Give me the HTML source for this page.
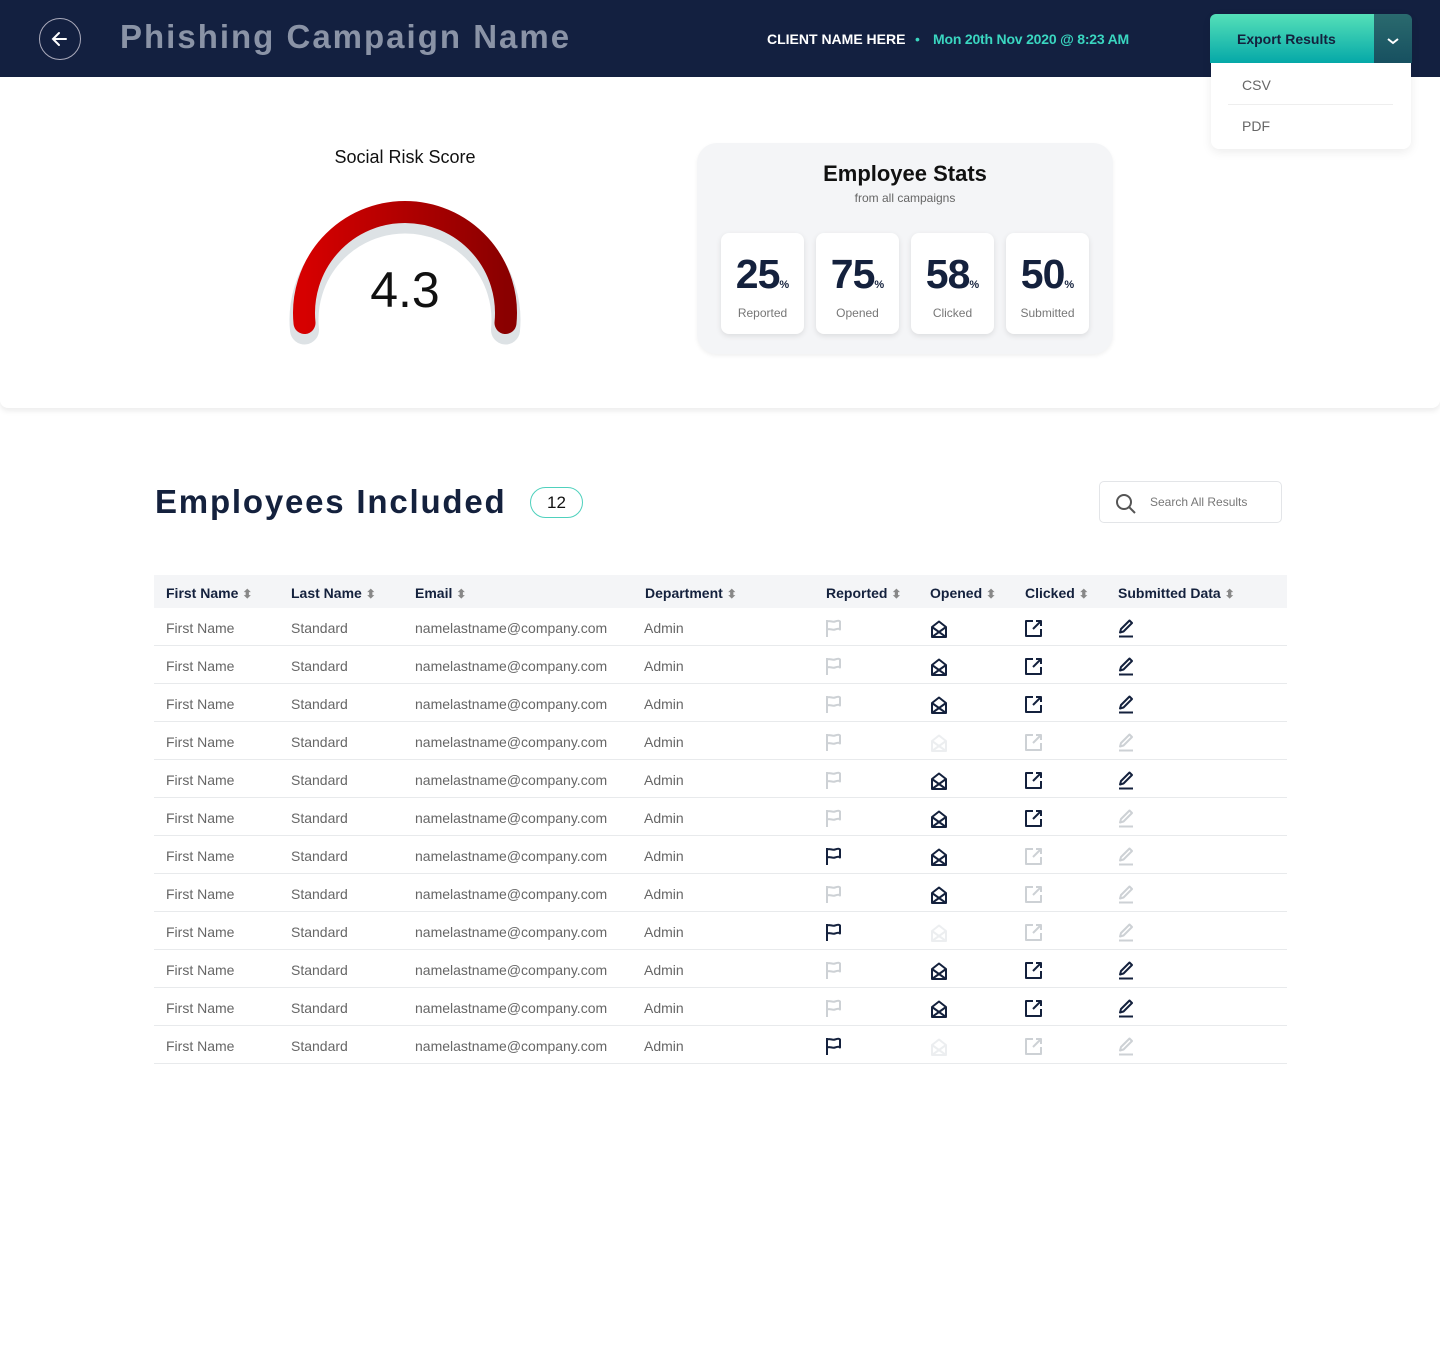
<!DOCTYPE html>
<html><head><meta charset="utf-8">
<style>
*{box-sizing:border-box;margin:0;padding:0}
body{width:1440px;height:1351px;background:#fff;font-family:"Liberation Sans",sans-serif;position:relative;overflow:hidden;color:#14213d}
.abs{position:absolute}
#header{left:0;top:0;width:1440px;height:77px;background:#132040}
#top{left:0;top:77px;width:1440px;height:331px;background:#fff;box-shadow:0 3px 6px rgba(0,0,0,0.08);border-radius:0 0 8px 8px}
.card{background:#fff;border-radius:8px;box-shadow:0 2px 6px rgba(0,0,0,0.10);text-align:center;width:83px;height:101px;top:233px}
.num{font-size:41px;font-weight:bold;color:#14213d;margin-top:18px;letter-spacing:-1px}
.num span{font-size:11px;letter-spacing:0}
.lbl{font-size:12px;color:#777;margin-top:8px}
.hcell{font-size:14px;font-weight:bold;color:#14213d;top:585px}
.sort{color:#888;font-size:12px}
.cell{font-size:14px;color:#666}
.sep{left:154px;width:1133px;height:1px;background:#e8eaec}
</style></head><body>
<div class="abs" id="header">
  <div class="abs" style="left:39px;top:18px;width:42px;height:42px;border:1px solid #aab;border-radius:50%">
    <svg width="40" height="40" style="position:absolute;left:0;top:0"><path d="M13 20h13M19 14l-6 6 6 6" stroke="#fff" stroke-width="2" fill="none" stroke-linecap="round"/></svg>
  </div>
  <div class="abs" style="left:120px;top:18px;font-size:33px;font-weight:bold;color:#8a93a6;letter-spacing:2px">Phishing Campaign Name</div>
  <div class="abs" style="left:767px;top:31px;font-size:14px;font-weight:bold;color:#fff">CLIENT NAME HERE</div>
  <div class="abs" style="left:915px;top:31px;font-size:14px;color:#3ad6c0">•</div>
  <div class="abs" style="left:933px;top:31px;font-size:14px;font-weight:bold;color:#3ad6c0;letter-spacing:-0.2px">Mon 20th Nov 2020 @ 8:23 AM</div>
</div>
<div class="abs" id="top"></div>

<div class="abs" style="left:1211px;top:14px;width:200px;height:135px;background:#fff;border-radius:8px;box-shadow:0 3px 10px rgba(0,0,0,0.08)">
  <div class="abs" style="left:31px;top:63px;font-size:14px;color:#666">CSV</div>
  <div class="abs" style="left:17px;top:90px;width:165px;height:1px;background:#eee"></div>
  <div class="abs" style="left:31px;top:104px;font-size:14px;color:#666">PDF</div>
</div>
<div class="abs" style="left:1210px;top:14px;width:164px;height:49px;background:linear-gradient(#55e0b8,#05a8a8);border-radius:6px 0 0 0;font-size:14px;font-weight:bold;color:#14213d;padding:17px 0 0 27px">Export Results</div>
<div class="abs" style="left:1374px;top:14px;width:38px;height:49px;background:linear-gradient(#2a6a6e,#175060);border-radius:0 6px 0 0">
  <svg width="38" height="49"><path d="M14 25l5 4 5-4" stroke="#fff" stroke-width="2" fill="none"/></svg>
</div>

<div class="abs" style="left:300px;top:147px;width:210px;text-align:center;font-size:18px;color:#111">Social Risk Score</div>
<svg class="abs" style="left:280px;top:190px" width="250" height="165">
  <defs><linearGradient id="g" x1="0" x2="1"><stop offset="0" stop-color="#d60000"/><stop offset="1" stop-color="#8a0000"/></linearGradient></defs>
  <path d="M24.5 137 A101 101 0 1 1 225.5 137" stroke="#dde2e5" stroke-width="29" fill="none" stroke-linecap="round" transform="translate(0,3)"/>
  <path d="M24.5 133 A101 101 0 1 1 225.5 133" stroke="url(#g)" stroke-width="22" fill="none" stroke-linecap="round"/>
  <text x="125" y="117" text-anchor="middle" font-size="50" font-family="Liberation Sans" fill="#111">4.3</text>
</svg>

<div class="abs" style="left:697px;top:143px;width:416px;height:211px;background:#f4f5f7;border-radius:20px;box-shadow:0 2px 4px rgba(0,0,0,0.06)"></div>
<div class="abs" style="left:697px;top:161px;width:416px;text-align:center;font-size:22px;font-weight:bold;color:#111">Employee Stats</div>
<div class="abs" style="left:697px;top:191px;width:416px;text-align:center;font-size:12px;color:#666">from all campaigns</div>
<div class="abs card" style="left:721px"><div class="num">25<span>%</span></div><div class="lbl">Reported</div></div>
<div class="abs card" style="left:816px"><div class="num">75<span>%</span></div><div class="lbl">Opened</div></div>
<div class="abs card" style="left:911px"><div class="num">58<span>%</span></div><div class="lbl">Clicked</div></div>
<div class="abs card" style="left:1006px"><div class="num">50<span>%</span></div><div class="lbl">Submitted</div></div>

<div class="abs" style="left:155px;top:483px;font-size:33px;font-weight:bold;color:#14213d;letter-spacing:1.8px">Employees Included</div>
<div class="abs" style="left:530px;top:487px;width:53px;height:31px;border:1px solid #4fd1bd;border-radius:16px;text-align:center;font-size:17px;line-height:29px;color:#111">12</div>
<div class="abs" style="left:1099px;top:481px;width:183px;height:42px;border:1px solid #e3e5e8;border-radius:5px">
  <svg class="abs" style="left:15px;top:11px" width="22" height="22"><circle cx="9" cy="9" r="7" stroke="#555" stroke-width="2" fill="none"/><path d="M14 14l6 6" stroke="#555" stroke-width="2"/></svg>
  <div class="abs" style="left:50px;top:13px;font-size:12px;color:#777">Search All Results</div>
</div>

<div class="abs" style="left:154px;top:575px;width:1133px;height:33px;background:#f4f5f7"></div>
<div class="abs hcell" style="left:166px">First Name <span class="sort">⬍</span></div>
<div class="abs hcell" style="left:291px">Last Name <span class="sort">⬍</span></div>
<div class="abs hcell" style="left:415px">Email <span class="sort">⬍</span></div>
<div class="abs hcell" style="left:645px">Department <span class="sort">⬍</span></div>
<div class="abs hcell" style="left:826px">Reported <span class="sort">⬍</span></div>
<div class="abs hcell" style="left:930px">Opened <span class="sort">⬍</span></div>
<div class="abs hcell" style="left:1025px">Clicked <span class="sort">⬍</span></div>
<div class="abs hcell" style="left:1118px">Submitted Data <span class="sort">⬍</span></div>
<div id="rows"></div>
<script>
// 2 = dark, 1 = light, 0 = very faint
const reported = [1,1,1,1,1,1,2,1,2,1,1,2];
const opened   = [2,2,2,0,2,2,2,2,0,2,2,0];
const clicked  = [2,2,2,1,2,2,1,1,1,2,2,1];
const submitted= [2,2,2,1,2,1,1,1,1,2,2,1];
const colors = {2:'#14213d',1:'#cdd1d5',0:'#eceef0'};
const icons = {
  flag:'M4 2v17M4 3.5c3-1.5 5 1 8 0s4-1 5 0v8c-1-1-2-1-5 0s-5-1.5-8 0',
  env:'M3 8L10 2.5 17 8V18H3ZM3 8L17 18M17 8L3 18',
  ext:'M10 3H3v15h15v-7M10 11l8-8M13 3h5v5',
  pen:'M5 14.5l1-3.5 8.5-8.5 2.5 2.5-8.5 8.5zM4 18.5h14'
};
const root = document.getElementById('rows');
function icon(kind, state, x, y){
  const s = document.createElementNS('http://www.w3.org/2000/svg','svg');
  s.setAttribute('width','22');s.setAttribute('height','22');
  s.setAttribute('class','abs');
  s.style.left=x+'px';s.style.top=y+'px';
  
  
  s.innerHTML='<path d="'+icons[kind]+'" stroke="'+colors[state]+'" stroke-width="2" fill="none" stroke-linejoin="round"/>';
  root.appendChild(s);
}
function txt(t,x,y,name){
  const d=document.createElement('div');
  d.className='abs cell';d.style.left=x+'px';d.style.top=y+'px';d.textContent=t;
  
  
  root.appendChild(d);
}
for(let i=0;i<reported.length;i++){
  const y=620+38*i;
  txt('First Name',166,y,'first-name-cell');
  txt('Standard',291,y,'last-name-cell');
  txt('namelastname@company.com',415,y,'email-cell');
  txt('Admin',644,y,'department-cell');
  icon('flag',reported[i],823,y-2);
  icon('env',opened[i],929,y-1);
  icon('ext',clicked[i],1023,y-2);
  icon('pen',submitted[i],1115,y-2);
  const sep=document.createElement('div');
  sep.className='abs sep';sep.style.top=(645+38*i)+'px';
  
  
  root.appendChild(sep);
}
</script>
</body></html>
